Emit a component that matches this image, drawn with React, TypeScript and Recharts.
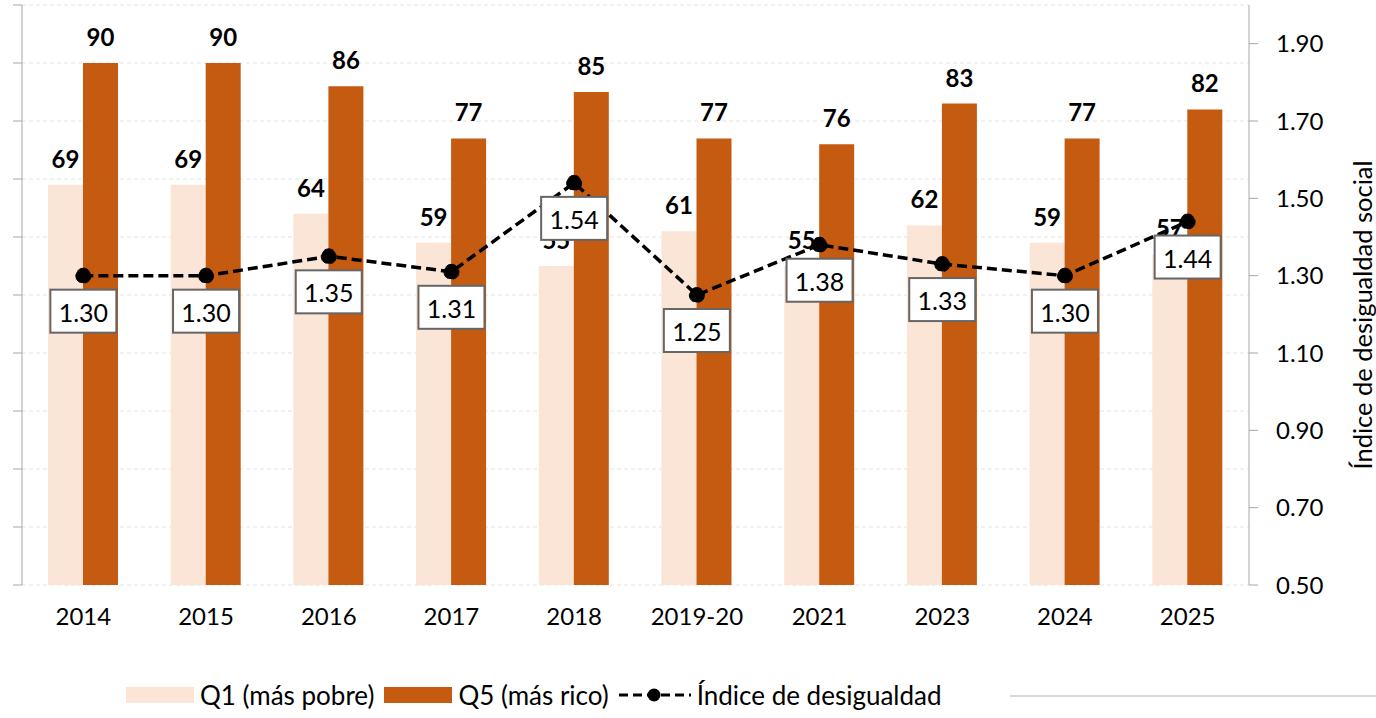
import React from "react";
import {
  ComposedChart,
  Bar,
  Line,
  XAxis,
  YAxis,
  CartesianGrid,
  Legend,
  LabelList,
} from "recharts";

// categorías y series
const years = ["2014", "2015", "2016", "2017", "2018", "2019-20", "2021", "2023", "2024", "2025"];
const q1 = [69, 69, 64, 59, 55, 61, 55, 62, 59, 57];
const q5 = [90, 90, 86, 77, 85, 77, 76, 83, 77, 82];
const indice = [1.3, 1.3, 1.35, 1.31, 1.54, 1.25, 1.38, 1.33, 1.3, 1.44];

const leftTicks = [0, 10, 20, 30, 40, 50, 60, 70, 80, 90, 100];
const rightTicks = [0.5, 0.7, 0.9, 1.1, 1.3, 1.5, 1.7, 1.9];
const frameTicks = [0, 1, 2, 3, 4, 5, 6, 7, 8, 9, 10];

const data = years.map((year, i) => ({ year, q1: q1[i], q5: q5[i], indice: indice[i] }));

const FONT = "Lato, 'Open Sans', sans-serif";
const LIGHT = "#FBE5D6";
const DARK = "#C55A11";
const AXIS = "#a6a6a6";

const IndexLabel = (props: any) => {
  const { x, y, value } = props;
  if (x == null || y == null) return null;
  return (
    <g>
      <rect x={x - 33} y={y + 14} width={66} height={43} fill="#fff" stroke="#666" strokeWidth={2} />
      <text x={x} y={y + 36} textAnchor="middle" dominantBaseline="central" fontSize={25} fontFamily={FONT} fill="#000">
        {Number(value).toFixed(2)}
      </text>
    </g>
  );
};

const renderLegend = () => (
  <div
    style={{
      height: 48,
      width: 1376,
      position: "relative",
      fontFamily: FONT,
      fontSize: 26,
      color: "#000",
    }}
  >
    <div style={{ position: "absolute", left: 126, top: 9, display: "flex", alignItems: "center", height: 32 }}>
      <span style={{ width: 68, height: 16, background: LIGHT, display: "inline-block", marginRight: 6 }} />
      <span style={{ marginRight: 10 }}>Q1 (más pobre)</span>
      <span style={{ width: 68, height: 16, background: DARK, display: "inline-block", marginRight: 6 }} />
      <span style={{ marginRight: 10 }}>Q5 (más rico)</span>
      <svg width={72} height={16} style={{ marginRight: 6 }}>
        <line x1={0} y1={8} x2={72} y2={8} stroke="#000" strokeWidth={3} strokeDasharray="9 5" />
        <circle cx={35} cy={8} r={6.5} fill="#000" />
      </svg>
      <span>Índice de desigualdad</span>
    </div>
    <div style={{ position: "absolute", left: 1010, top: 25, width: 366, height: 2, background: "#d9d9d9" }} />
  </div>
);

export default function App() {
  return (
    <div style={{ position: "absolute", left: 0, top: 0, fontFamily: FONT }}>
      <ComposedChart
        width={1376}
        height={718}
        data={data}
        margin={{ top: 5, right: 0, left: 0, bottom: 0 }}
        barGap={0}
      >
        <CartesianGrid
          xAxisId="cat"
          yAxisId="left"
          vertical={false}
          stroke="#e4e4e4"
          strokeDasharray="4 3"
        />
        <XAxis
          xAxisId="frame"
          type="number"
          domain={[0, 10]}
          ticks={frameTicks}
          tickFormatter={() => ""}
          tickSize={9}
          stroke={AXIS}
          height={0}
        />
        <XAxis
          xAxisId="cat"
          dataKey="year"
          axisLine={false}
          tickLine={false}
          tickSize={9}
          tickMargin={14}
          height={85}
          interval={0}
          tick={{ fontSize: 24, fill: "#000", fontFamily: FONT }}
        />
        <YAxis
          yAxisId="left"
          orientation="left"
          domain={[0, 100]}
          ticks={leftTicks}
          tickFormatter={() => ""}
          tickSize={9}
          width={22}
          stroke={AXIS}
        />
        <YAxis
          yAxisId="right"
          orientation="right"
          domain={[0.5, 2.0]}
          ticks={rightTicks}
          tickFormatter={(v: number) => v.toFixed(2)}
          tickSize={9}
          tickMargin={18}
          width={127}
          stroke={AXIS}
          tick={{ fontSize: 24, fill: "#000", fontFamily: FONT, textAnchor: "start" }}
          label={{
            content: (p: any) => {
              const vb = p.viewBox || {};
              const cx = (vb.x ?? 1249) + (vb.width ?? 127) - 14;
              const cy = (vb.y ?? 5) + (vb.height ?? 580) / 2 + 20;
              return (
                <text
                  transform={`translate(${cx},${cy}) rotate(-90)`}
                  textAnchor="middle"
                  dominantBaseline="central"
                  fontSize={25.5}
                  fontFamily={FONT}
                  fill="#000"
                >
                  Índice de desigualdad social
                </text>
              );
            },
          }}
        />
        <Bar xAxisId="cat" yAxisId="left" dataKey="q1" name="Q1 (más pobre)" fill={LIGHT} barSize={35} isAnimationActive={false}>
          <LabelList dataKey="q1" position="top" offset={17} fill="#000" fontSize={24} fontWeight="bold" fontFamily={FONT} />
        </Bar>
        <Bar xAxisId="cat" yAxisId="left" dataKey="q5" name="Q5 (más rico)" fill={DARK} barSize={35} isAnimationActive={false}>
          <LabelList dataKey="q5" position="top" offset={17} fill="#000" fontSize={24} fontWeight="bold" fontFamily={FONT} />
        </Bar>
        <Line
          xAxisId="cat"
          yAxisId="right"
          type="linear"
          dataKey="indice"
          name="Índice de desigualdad"
          stroke="#000"
          strokeWidth={3.5}
          strokeDasharray="10 5"
          dot={{ r: 7.5, fill: "#000", stroke: "#000", strokeWidth: 1 }}
          activeDot={false}
          isAnimationActive={false}
        >
          <LabelList dataKey="indice" content={IndexLabel} />
        </Line>
        <Legend verticalAlign="bottom" content={renderLegend} />
      </ComposedChart>
    </div>
  );
}
